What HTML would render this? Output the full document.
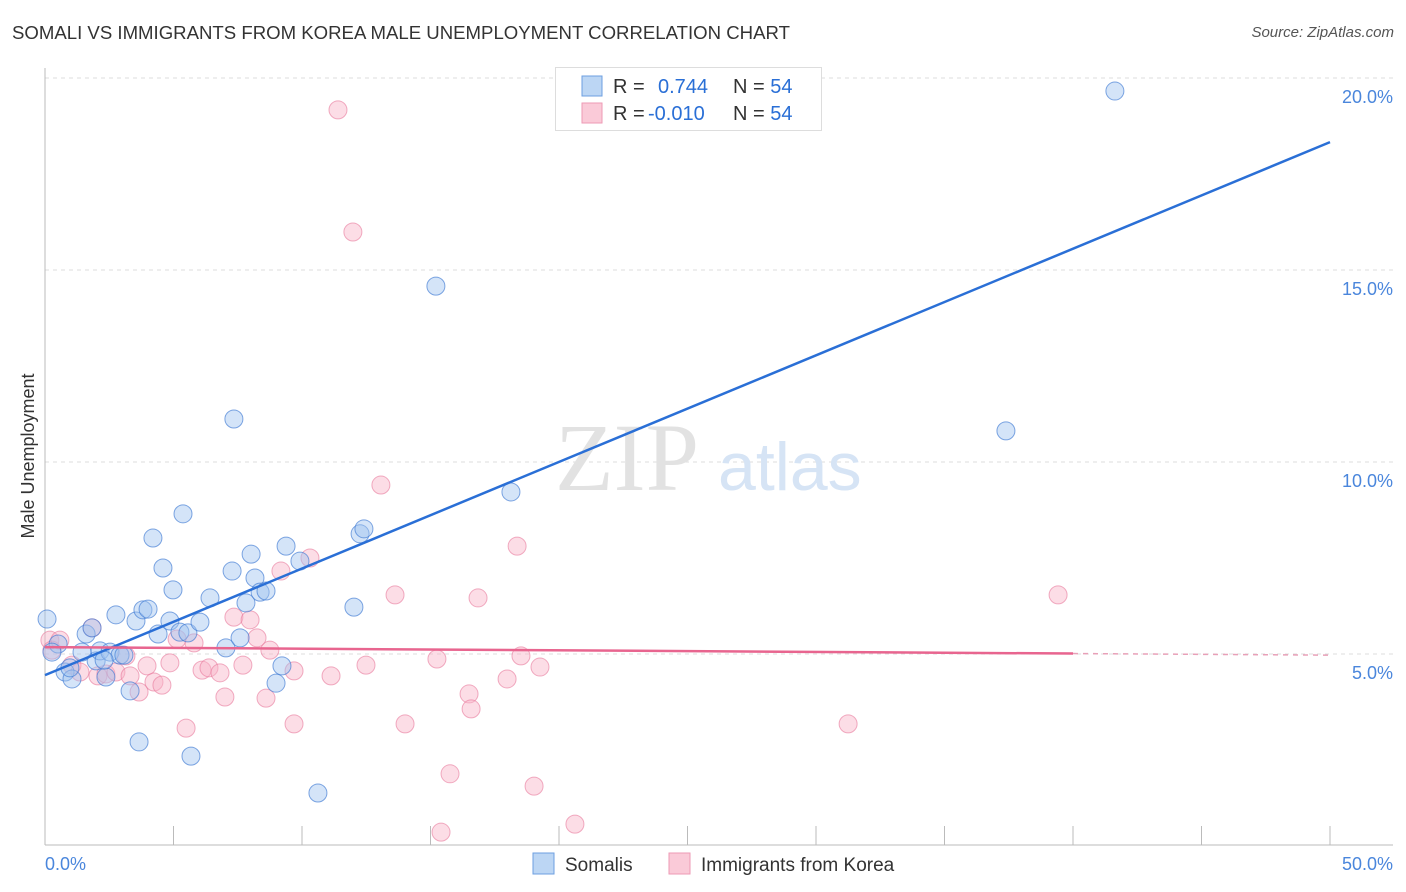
<!DOCTYPE html>
<html><head><meta charset="utf-8">
<style>
body{margin:0;background:#fff;font-family:"Liberation Sans",sans-serif;}
#wrap{position:relative;width:1406px;height:892px;overflow:hidden;}
.title{position:absolute;left:12px;top:22px;font-size:18.6px;color:#333;}
.source{position:absolute;right:12px;top:24px;font-size:15px;color:#555;font-style:italic;}
</style></head><body>
<div id="wrap">
<div class="title">SOMALI VS IMMIGRANTS FROM KOREA MALE UNEMPLOYMENT CORRELATION CHART</div>
<div class="source">Source: ZipAtlas.com</div>
<svg id="svg" width="1406" height="892" style="position:absolute;left:0;top:0"></svg>
</div>
<script>
const blueX=[0.08,0.51,0.78,1.05,1.6,1.83,1.99,2.14,2.37,2.53,2.76,2.92,3.07,3.31,3.54,3.66,3.81,4.01,4.20,4.40,4.59,4.86,4.98,5.25,5.37,5.56,5.68,6.03,6.42,7.04,7.28,7.35,7.59,7.82,8.02,8.17,8.37,8.60,8.99,9.22,9.38,9.92,10.62,12.02,12.26,12.41,15.21,18.13,37.39,41.63,0.27,0.97,1.44,2.30];
const blueY=[5.91,5.26,4.53,4.35,5.52,5.68,4.82,5.08,4.40,5.05,6.02,4.97,4.97,4.04,5.86,2.71,6.15,6.17,8.02,5.52,7.24,5.86,6.67,5.57,8.65,5.55,2.34,5.83,6.46,5.16,7.16,11.12,5.42,6.33,7.60,6.98,6.61,6.64,4.24,4.69,7.81,7.42,1.38,6.22,8.13,8.26,14.58,9.22,10.81,19.66,5.05,4.64,5.05,4.84];
const pinkX=[0.19,0.27,0.58,1.05,1.36,1.83,2.06,2.37,2.76,3.15,3.31,3.66,3.97,4.24,4.55,4.86,5.14,5.49,5.80,6.11,6.38,6.81,7.00,7.35,7.70,7.98,8.25,8.60,8.75,9.18,9.69,9.69,10.31,11.13,11.40,11.98,12.49,13.07,13.62,14.01,15.25,15.41,15.76,16.50,16.58,16.85,17.98,18.37,18.52,19.03,19.26,20.62,31.25,39.42];
const pinkY=[5.36,5.10,5.36,4.71,4.53,5.68,4.43,4.48,4.53,4.95,4.43,4.01,4.69,4.27,4.19,4.77,5.39,3.07,5.29,4.58,4.64,4.51,3.88,5.96,4.71,5.89,5.42,3.85,5.10,7.16,4.56,3.18,7.50,4.43,19.17,15.99,4.71,9.40,6.54,3.18,4.87,0.36,1.88,3.96,3.57,6.46,4.35,7.81,4.95,1.56,4.66,0.57,3.18,6.54];
const blueTrend=[4.45,18.33];
const pinkTrend=[5.18,4.97];
const yTicks=[5,10,15,20];
const yTickLabels=["5.0%","10.0%","15.0%","20.0%"];

const X0=45,X1=1330,Y0=846,PXY=38.4;
const sx=v=>X0+v/50*(X1-X0);
const sy=v=>Y0-v*PXY;
const svg=document.getElementById('svg');
const NS='http://www.w3.org/2000/svg';
function mk(t,a){const e=document.createElementNS(NS,t);for(const k in a)e.setAttribute(k,a[k]);svg.appendChild(e);return e;}

yTicks.forEach((t,i)=>{
  const g=mk('line',{x1:X0,x2:1393,y1:sy(t),y2:sy(t),stroke:'#ddd','stroke-dasharray':'4,4'});
  
  
  const l=mk('text',{x:1393,y:sy(t)+25,'text-anchor':'end','font-size':'18',fill:'#4a86dc'});
  l.textContent=yTickLabels[i];
  
  
});
const ax=mk('line',{x1:X0,x2:X0,y1:68,y2:845,stroke:'#bbb'});


const bx=mk('line',{x1:X0,x2:1393,y1:845,y2:845,stroke:'#bbb'});


for(let v=0;v<=50;v+=5){
  const t=mk('line',{x1:sx(v),x2:sx(v),y1:826,y2:845,stroke:'#bbb'});
  
  
}
const xl0=mk('text',{x:45,y:870,'font-size':'18',fill:'#4a86dc'});xl0.textContent='0.0%';


const xl1=mk('text',{x:1393,y:870,'font-size':'18',fill:'#4a86dc','text-anchor':'end'});xl1.textContent='50.0%';


const yt=mk('text',{x:34,y:456,'font-size':'18',fill:'#333','text-anchor':'middle',transform:'rotate(-90 34 456)'});yt.textContent='Male Unemployment';


const wm1=mk('text',{x:555,y:490,'font-size':'96','font-family':'Liberation Serif',fill:'#e2e2e2'});wm1.textContent='ZIP';


const wm2=mk('text',{x:718,y:490,'font-size':'68',fill:'#d6e4f5'});wm2.textContent='atlas';



pinkX.forEach((x,i)=>{
  const c=mk('circle',{cx:sx(x),cy:sy(pinkY[i]),r:9,fill:'rgba(248,180,200,0.45)',stroke:'rgba(232,120,155,0.6)','stroke-width':1});
  
  
});
blueX.forEach((x,i)=>{
  const c=mk('circle',{cx:sx(x),cy:sy(blueY[i]),r:9,fill:'rgba(160,196,240,0.45)',stroke:'rgba(60,120,210,0.65)','stroke-width':1});
  
  
});
const bl=mk('line',{x1:sx(0),y1:sy(blueTrend[0]),x2:sx(50),y2:sy(blueTrend[1]),stroke:'#2a6fd6','stroke-width':2.5});


const pm=pinkTrend[0]+(pinkTrend[1]-pinkTrend[0])*0.8;
const pl=mk('line',{x1:sx(0),y1:sy(pinkTrend[0]),x2:sx(40),y2:sy(pm),stroke:'#e8658f','stroke-width':2.5});


const pd=mk('line',{x1:sx(40),y1:sy(pm),x2:sx(50),y2:sy(pinkTrend[1]),stroke:'#e8a0b8','stroke-width':1.5,'stroke-dasharray':'5,5'});



const lg=mk('rect',{x:555.5,y:67.5,width:266,height:63,fill:'#fff',stroke:'#ddd'});


[[0,'rgba(160,196,240,0.7)','#6d9fe0','0.744'],[1,'rgba(248,180,200,0.7)','#ee9ab5','-0.010']].forEach(([i,f,s,r])=>{
  const y=76+i*27;
  const sw=mk('rect',{x:582,y:y,width:20,height:20,fill:f,stroke:s});
  
  
  const t=mk('text',{x:613,y:y+17,'font-size':'20',fill:'#333'});
  t.innerHTML='R = <tspan fill="#2a6fd6" x="'+(i?648:658)+'">'+r+'</tspan><tspan x="733" fill="#333">N = </tspan><tspan fill="#2a6fd6">54</tspan>';
  
  
});
[[533,'rgba(160,196,240,0.7)','#6d9fe0','Somalis',565],[669,'rgba(248,180,200,0.7)','#ee9ab5','Immigrants from Korea',701]].forEach(([x,f,s,l,tx])=>{
  const r=mk('rect',{x:x,y:853,width:21,height:21,fill:f,stroke:s});
  
  
  const t=mk('text',{x:tx,y:871,'font-size':'19',fill:'#333'});t.textContent=l;
  
  
});
</script>
</body></html>
